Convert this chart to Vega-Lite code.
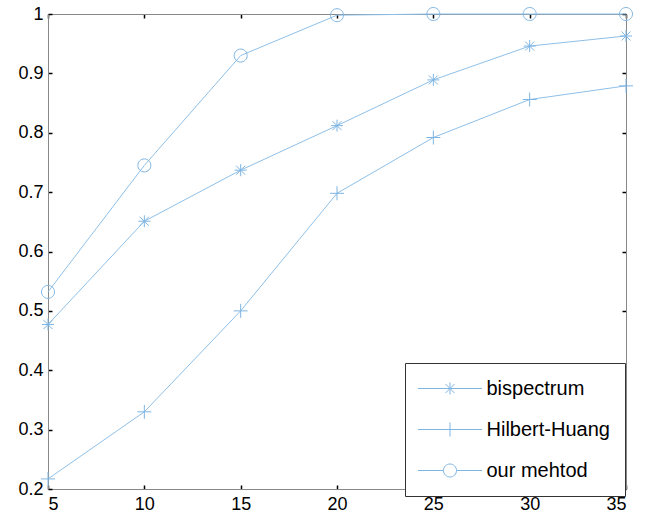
{
  "$schema": "https://vega.github.io/schema/vega-lite/v6.json",
  "width": 578,
  "height": 475,
  "autosize": {"type": "none"},
  "padding": {"left": 48, "top": 14, "right": 24, "bottom": 32},
  "background": "white",
  "config": {
    "view": {"stroke": null},
    "font": "Liberation Sans",
    "axis": {
      "grid": false,
      "domainColor": "#888888",
      "domainWidth": 1,
      "tickColor": "#000000",
      "tickSize": -4,
      "tickWidth": 1.5,
      "labelFont": "Liberation Sans",
      "labelFontSize": 18,
      "labelColor": "#000000",
      "title": null
    }
  },
  "data": {
    "values": [
      {"x": 5, "y": 0.477, "series": "bispectrum"},
      {"x": 10, "y": 0.651, "series": "bispectrum"},
      {"x": 15, "y": 0.737, "series": "bispectrum"},
      {"x": 20, "y": 0.812, "series": "bispectrum"},
      {"x": 25, "y": 0.889, "series": "bispectrum"},
      {"x": 30, "y": 0.946, "series": "bispectrum"},
      {"x": 35, "y": 0.963, "series": "bispectrum"},
      {"x": 5, "y": 0.217, "series": "Hilbert-Huang"},
      {"x": 10, "y": 0.33, "series": "Hilbert-Huang"},
      {"x": 15, "y": 0.5, "series": "Hilbert-Huang"},
      {"x": 20, "y": 0.698, "series": "Hilbert-Huang"},
      {"x": 25, "y": 0.792, "series": "Hilbert-Huang"},
      {"x": 30, "y": 0.856, "series": "Hilbert-Huang"},
      {"x": 35, "y": 0.879, "series": "Hilbert-Huang"},
      {"x": 5, "y": 0.532, "series": "our mehtod"},
      {"x": 10, "y": 0.745, "series": "our mehtod"},
      {"x": 15, "y": 0.93, "series": "our mehtod"},
      {"x": 20, "y": 0.998, "series": "our mehtod"},
      {"x": 25, "y": 1.0, "series": "our mehtod"},
      {"x": 30, "y": 1.0, "series": "our mehtod"},
      {"x": 35, "y": 1.0, "series": "our mehtod"}
    ]
  },
  "resolve": {
    "axis": {"x": "independent", "y": "independent"},
    "scale": {"shape": "independent"},
    "legend": {"shape": "independent"}
  },
  "layer": [
    {
      "mark": {"type": "line", "strokeWidth": 1, "color": "#8fc0e8", "clip": false},
      "encoding": {
        "x": {"field": "x", "type": "quantitative", "scale": {"domain": [5, 35], "nice": false, "zero": false},
              "axis": {"orient": "bottom", "values": [5, 10, 15, 20, 25, 30, 35], "labelPadding": 10}},
        "y": {"field": "y", "type": "quantitative", "scale": {"domain": [0.2, 1], "nice": false, "zero": false},
              "axis": {"orient": "left", "values": [0.2, 0.3, 0.4, 0.5, 0.6, 0.7, 0.8, 0.9, 1], "format": ".1~f", "labelPadding": 9}},
        "detail": {"field": "series"}
      }
    },
    {
      "mark": {"type": "point", "filled": false, "strokeWidth": 1, "size": 400, "color": "#7fb5e3", "opacity": 1, "clip": false},
      "encoding": {
        "x": {"field": "x", "type": "quantitative",
              "axis": {"orient": "top", "values": [5, 10, 15, 20, 25, 30, 35], "labels": false}},
        "y": {"field": "y", "type": "quantitative",
              "axis": {"orient": "right", "values": [0.2, 0.3, 0.4, 0.5, 0.6, 0.7, 0.8, 0.9, 1], "labels": false}},
        "shape": {
          "field": "series",
          "type": "nominal",
          "scale": {
            "domain": ["bispectrum", "Hilbert-Huang", "our mehtod"],
            "range": [
              "M-0.6,0H0.6M0,-0.6V0.6M-0.45,-0.45L0.45,0.45M-0.45,0.45L0.45,-0.45",
              "M-0.7,0H0.7M0,-0.7V0.7",
              "M-0.65,0A0.65,0.65 0 1,0 0.65,0A0.65,0.65 0 1,0 -0.65,0"
            ]
          },
          "legend": null
        }
      }
    },
    {
      "transform": [{"filter": "false"}],
      "mark": {"type": "point", "filled": false, "strokeWidth": 1, "size": 400, "color": "#7fb5e3", "opacity": 1},
      "encoding": {
        "shape": {
          "field": "series",
          "type": "nominal",
          "scale": {
            "domain": ["bispectrum", "Hilbert-Huang", "our mehtod"],
            "range": [
              "M-3.2,0H3.2M0,-0.6V0.6M-0.45,-0.45L0.45,0.45M-0.45,0.45L0.45,-0.45",
              "M-3.2,0H3.2M0,-0.7V0.7",
              "M-3.2,0H-0.65A0.65,0.65 0 1,0 0.65,0A0.65,0.65 0 1,0 -0.65,0M0.65,0H3.2"
            ]
          },
          "legend": {
            "orient": "none",
            "legendX": 357,
            "legendY": 349,
            "title": null,
            "strokeColor": "#333333",
            "fillColor": "#ffffff",
            "padding": 15,
            "labelFont": "Liberation Sans",
            "labelFontSize": 20,
            "labelColor": "#000000",
            "symbolSize": 400,
            "symbolOpacity": 1,
            "symbolStrokeWidth": 1,
            "symbolStrokeColor": "#7fb5e3",
            "symbolOffset": 19.5,
            "labelOffset": 26,
            "rowPadding": 20
          }
        }
      }
    }
  ]
}
